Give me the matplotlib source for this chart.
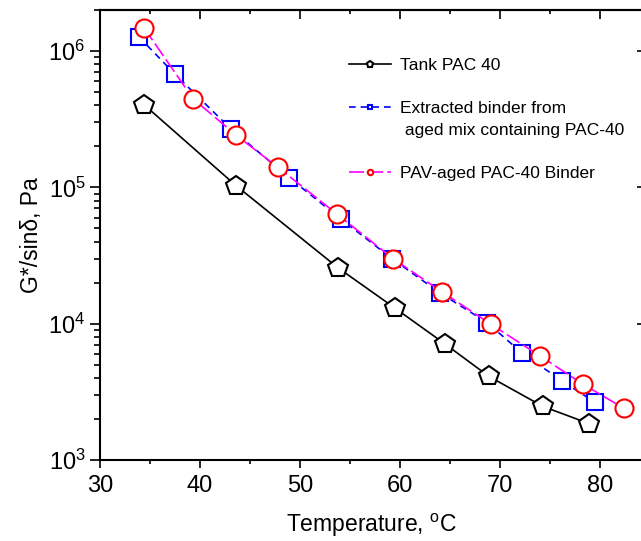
import matplotlib
matplotlib.use('Agg')
import matplotlib.pyplot as plt
from matplotlib.ticker import LogLocator, NullLocator, MultipleLocator, NullFormatter

plt.rcParams['font.family'] = ['Liberation Sans', 'DejaVu Sans']
plt.rcParams['mathtext.fontset'] = 'custom'
plt.rcParams['mathtext.rm'] = 'Liberation Sans'
plt.rcParams['mathtext.it'] = 'Liberation Sans:italic'

# Tank PAC 40
tank_temp = [34.4, 43.6, 53.8, 59.5, 64.5, 68.9, 74.3, 78.9]
tank_g = [4.04e5, 1.03e5, 2.57e4, 1.30e4, 7.1e3, 4.1e3, 2.47e3, 1.85e3]

# extracted binder from aged mix
extr_temp = [33.9, 37.5, 43.1, 48.9, 54.1, 59.2, 64.0, 68.7, 72.2, 76.2, 79.5]
extr_g = [1.27e6, 6.75e5, 2.68e5, 1.18e5, 5.85e4, 3.0e4, 1.68e4, 1.02e4, 6.1e3, 3.8e3, 2.65e3]

# PAV-aged binder
pav_temp = [34.4, 39.3, 43.6, 47.8, 53.7, 59.3, 64.2, 69.1, 74.0, 78.3, 82.4]
pav_g = [1.48e6, 4.47e5, 2.42e5, 1.40e5, 6.37e4, 3.0e4, 1.71e4, 9.9e3, 5.8e3, 3.6e3, 2.39e3]

fig = plt.figure(figsize=(6.41, 5.41), dpi=100)
# right spine sits just outside the picture, as in the original crop
ax = fig.add_axes([100/641, 81/541, 543/641, 450/541])

ax.plot(tank_temp, tank_g, color='black', lw=1.2, marker='p', ms=15,
        mfc='white', mec='black', mew=1.5, label='Tank PAC 40')
ax.plot(extr_temp, extr_g, color='blue', lw=1.2, ls=(0, (4, 3)), marker='s', ms=11,
        mfc='white', mec='blue', mew=1.5,
        label='Extracted binder from\n aged mix containing PAC-40')
ax.plot(pav_temp, pav_g, color='magenta', lw=1.2, ls=(0, (9, 2.5)), marker='o', ms=13,
        mfc='white', mec='red', mew=1.5, label='PAV-aged PAC-40 Binder')

ax.set_yscale('log')
ax.set_xlim(30, 84.3)
ax.set_ylim(1e3, 2e6)

ax.xaxis.set_major_locator(MultipleLocator(10))
ax.xaxis.set_minor_locator(MultipleLocator(5))
ax.yaxis.set_major_locator(LogLocator(base=10))
ax.yaxis.set_minor_locator(LogLocator(base=10, subs=range(2, 10)))
ax.yaxis.set_minor_formatter(NullFormatter())

for s in ax.spines.values():
    s.set_linewidth(1.5)

ax.tick_params(axis='y', which='major', direction='out', length=7.5, width=1.2, labelsize=17, pad=3)
ax.tick_params(axis='y', which='minor', direction='out', length=4, width=1.2)
ax.tick_params(axis='x', which='major', direction='out', length=5.5, width=1.2, labelsize=17, pad=5)
ax.tick_params(axis='x', which='minor', direction='out', length=3, width=1.2)

top = ax.secondary_xaxis('top')
top.xaxis.set_major_locator(MultipleLocator(10))
top.xaxis.set_minor_locator(MultipleLocator(5))
top.tick_params(which='major', direction='in', length=6.5, width=1.2, labeltop=False)
top.tick_params(which='minor', direction='in', length=3, width=1.2)
top.spines['top'].set_linewidth(1.5)

right = ax.secondary_yaxis('right')
right.yaxis.set_major_locator(LogLocator(base=10))
right.yaxis.set_minor_locator(NullLocator())
right.tick_params(which='both', direction='in', length=4, width=1.2, labelright=False)

ax.set_xlabel('Temperature, $^{\\rm o}$C', fontsize=16.5, labelpad=11)
ax.set_ylabel('G*/sinδ, Pa', fontsize=16.5, labelpad=4)

leg = ax.legend(loc='upper left', bbox_to_anchor=(0.459, 0.893), frameon=False,
                fontsize=12.5, handlelength=2.4, handletextpad=0.55, labelspacing=1.6,
                borderpad=0, borderaxespad=0, markerscale=0.3)
leg.get_texts()[1].set_linespacing(1.6)
# keep the handle of the two-line entry next to its first line
leg._legend_handle_box.get_children()[0].get_children()[1].align = 'top'

plt.savefig('out.png', dpi=100)
plt.close()
